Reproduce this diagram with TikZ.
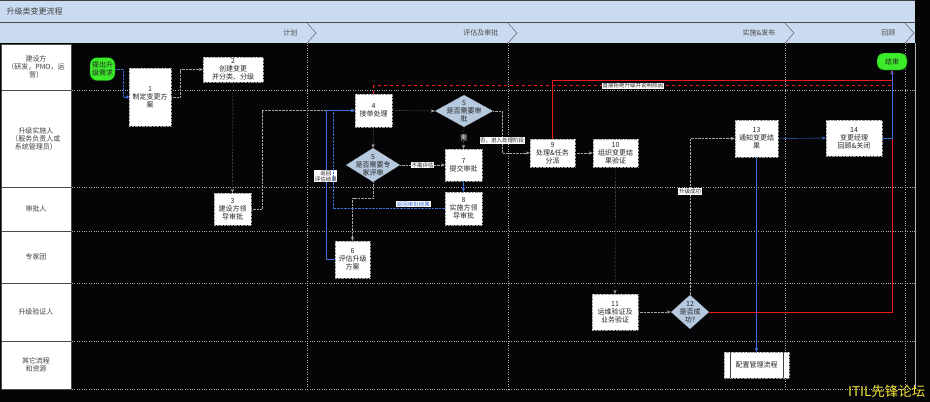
\documentclass[tikz,border=0pt]{standalone}
\usepackage{fontspec}
\setmainfont{Noto Sans CJK SC}
\usepackage{tikz}
\usetikzlibrary{arrows.meta,positioning,shapes.geometric}
\definecolor{nightBg}{HTML}{050508}
\definecolor{barBlue}{HTML}{CADAF0}
\definecolor{diaBlue}{HTML}{B6C9DE}
\definecolor{termGreen}{HTML}{3CEB2A}
\definecolor{flowBlue}{HTML}{3A6FD8}
\definecolor{flowRed}{HTML}{F01818}
\definecolor{markYellow}{HTML}{F2E232}
\tikzset{
  lanehead/.style={draw=black!70,fill=white,minimum width=70pt,inner sep=1pt,align=center,text=black!75},
  lanegrid/.style={gray!65,dotted},
  stepbox/.style={draw=gray!80,densely dotted,fill=white,inner sep=0pt,align=center,text=black!85},
  decision/.style={diamond,draw=gray!80,densely dotted,fill=diaBlue,inner sep=0pt},
  dtext/.style={align=center,inner sep=0pt,text=black!85},
  terminal/.style={rounded corners=7pt,draw=green!45!black,fill=termGreen,inner sep=0pt,align=center,text=black!85},
  grayflow/.style={gray!70,densely dotted,->},
  blueflow/.style={flowBlue,->},
  redflow/.style={flowRed,thick,->},
  flowlbl/.style={fill=white,inner sep=0.6pt,align=center,text=black!85,font=\fontsize{5.5}{6}\selectfont},
}
\begin{document}
\begin{tikzpicture}[x=1pt,y=-1pt,font=\fontsize{7}{8}\selectfont,>={Stealth[length=4pt,width=3.2pt]}]
  \useasboundingbox (0,0) rectangle (930,402);
  \fill[nightBg] (0,0) rectangle (930,402);
  \fill[barBlue] (0,0) rectangle (915,22);
  \fill[barBlue] (0,23) rectangle (915,43);
  \draw[black!75,line width=1pt] (0,0.5) -- (915,0.5);
  \draw[black!70,line width=0.8pt] (0,22.5) -- (915,22.5);
  \node[anchor=west,text=black!75,font=\fontsize{8}{9}\selectfont] (title) at (3,11) {升级类变更流程};
  \foreach \xx/\ph [count=\i] in {316/计划,517/评估及审批,794/{实施\&发布},914/回顾}{
    \draw[black!70] (\xx-9,23) -- (\xx,33) -- (\xx-9,43);
    \node[anchor=east,text=black!70] (phase\i) at (\xx-15,33) {\ph};
    \draw[lanegrid] (\xx-9,43) -- (\xx-9,389);
  }
  \draw[gray!60] (915,43) -- (915,389);
  \foreach \ya/\yb/\who [count=\i] in {44/90/{建设方\\（研发，PMO，运\\营）},90/187/{升级实施人\\（服务负责人或\\系统管理员）},187/231/审批人,231/283/专家团,283/341/升级验证人,341/389/{其它流程\\和资源}}{
    \pgfmathsetmacro{\hh}{\yb-\ya}
    \node[lanehead,minimum height=\hh pt] (lane\i) at (36,{(\ya+\yb)/2}) {\who};
    \draw[lanegrid] (72,\yb) -- (915,\yb);
  }
  \node[terminal,minimum width=25pt,minimum height=23pt] (start) at (102.5,69) {提出升\\级需求};
  \node[stepbox,minimum width=42pt,minimum height=58pt] (plan) at (150,97) {1\\制定变更方\\案};
  \node[stepbox,minimum width=60pt,minimum height=25pt] (create) at (233,69.5) {2\\创建变更\\并分类、分级};
  \node[stepbox,minimum width=37pt,minimum height=32pt] (ownerok) at (232.5,209) {3\\建设方领\\导审批};
  \node[stepbox,minimum width=37pt,minimum height=33pt] (accept) at (373.5,110.5) {4\\接单处理};
  \node[decision,minimum width=58pt,minimum height=32pt,label={[dtext]center:5\\是否需要审\\批}] (needok) at (464,111) {};
  \node[decision,minimum width=54pt,minimum height=34pt,label={[dtext]center:5\\是否需要专\\家评审}] (needexp) at (373,165) {};
  \node[stepbox,minimum width=35pt,minimum height=37pt] (assess) at (352.5,259.5) {6\\评估升级\\方案};
  \node[stepbox,minimum width=37pt,minimum height=32pt] (submit) at (463.5,165) {7\\提交审批};
  \node[stepbox,minimum width=37pt,minimum height=33pt] (implok) at (463.5,208.5) {8\\实施方领\\导审批};
  \node[stepbox,minimum width=45pt,minimum height=28pt] (dispatch) at (552.5,153) {9\\处理\&任务\\分派};
  \node[stepbox,minimum width=45pt,minimum height=28pt] (verify) at (615.5,153) {10\\组织变更结\\果验证};
  \node[stepbox,minimum width=46pt,minimum height=36pt] (test) at (615,312) {11\\运维验证及\\业务验证};
  \node[decision,minimum width=38pt,minimum height=34pt,label={[dtext]center:12\\是否成\\功?}] (success) at (690,312) {};
  \node[stepbox,minimum width=43pt,minimum height=37pt] (notify) at (756.5,138.5) {13\\通知变更结\\果};
  \node[stepbox,minimum width=56pt,minimum height=36pt] (review) at (854,138) {14\\变更经理\\回顾\&关闭};
  \node[terminal,minimum width=30pt,minimum height=17pt] (finish) at (892,61.5) {结束};
  \node[stepbox,minimum width=65pt,minimum height=26pt] (cmdb) at (756.5,365) {配置管理流程};
  \draw[black!75] ([xshift=6pt]cmdb.north west) -- ([xshift=6pt]cmdb.south west);
  \draw[black!75] ([xshift=-6pt]cmdb.north east) -- ([xshift=-6pt]cmdb.south east);
  \draw[flowBlue,densely dotted,-{Circle[length=3pt]}] (start.east) -- ++(8,0) |- (plan.west);
  \draw[grayflow] (plan.east) -- ++(9,0) |- (create.west);
  \draw[grayflow] (create.south) -- (ownerok.north);
  \draw[grayflow] (ownerok.east) -- ++(11,0) |- (accept.west);
  \draw[grayflow] (accept.east) -- (needok.west);
  \draw[grayflow] (accept.south) -- (needexp.north);
  \draw[grayflow] (needok.south) -- node[text=white,inner sep=0pt] {需} (submit.north);
  \draw[grayflow] (needok.east) -- ++(9,0) |- node[pos=0.35,flowlbl] {否，进入处理阶段} (dispatch.west);
  \draw[grayflow] (needexp.east) -- node[flowlbl] {不需评估} (submit.west);
  \draw[grayflow] (needexp.south) -- ++(0,16) -| (assess.north);
  \draw[blueflow] (assess.west) -- ++(-9,0) |- node[pos=0.28,flowlbl] {返回\\评估结果} (accept.west);
  \draw[blueflow,densely dotted] (implok.west) -| node[pos=0.14,above=1pt,flowlbl,text=flowBlue] {返回审批结果} ([xshift=-22pt]accept.west) -- (accept.west);
  \draw[blueflow] (submit.south) -- (implok.north);
  \draw[grayflow] (dispatch.east) -- (verify.west);
  \draw[grayflow] (verify.south) -- (test.north);
  \draw[grayflow] (test.east) -- (success.west);
  \draw[grayflow] (success.north) |- node[pos=0.33,flowlbl] {升级成功} (notify.west);
  \draw[blueflow] (notify.east) -- (review.west);
  \draw[blueflow] (notify.south) -- (cmdb.north);
  \draw[redflow,dashed] (accept.north) -- ++(0,-8) -| node[pos=0.25,flowlbl] {直接拒绝升级并说明原因} (finish.south);
  \draw[redflow] (dispatch.north) -- ++(0,-58) -| (finish.south);
  \draw[redflow] (success.east) -| (finish.south);
  \draw[blueflow] (review.east) -| (finish.south);
  \node[anchor=south east,text=markYellow,font=\fontsize{13.5}{14}\selectfont] (mark) at (929,401) {ITIL先锋论坛};
\end{tikzpicture}
\end{document}
